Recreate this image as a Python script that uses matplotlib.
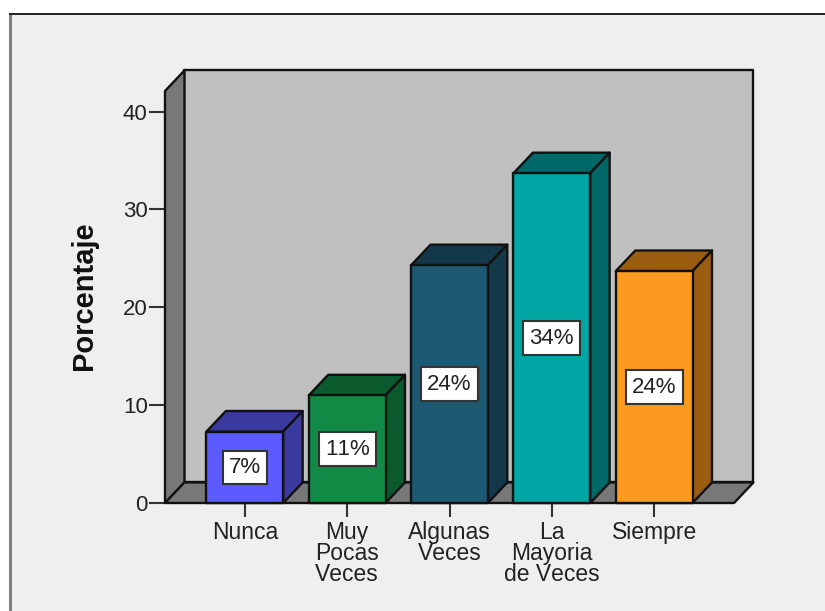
import matplotlib
matplotlib.use('Agg')
import matplotlib.pyplot as plt
from matplotlib.patches import Rectangle

categories = ['Nunca', 'Muy\nPocas\nVeces', 'Algunas\nVeces', 'La\nMayoria\nde Veces', 'Siempre']
values = [7.3, 11.0, 24.3, 33.7, 23.7]
y_ticks = [0, 10, 20, 30, 40]
front_colors = ['#5b5bff', '#108a45', '#1c5a74', '#00a6a4', '#fb9a1e']
dark_colors = ['#3a3a9e', '#0b5a2d', '#12384a', '#006866', '#9b5e10']

plt.rcParams['font.family'] = ['Liberation Sans', 'DejaVu Sans']
plt.rcParams['text.kerning_factor'] = 6

W, H = 825, 611
fig = plt.figure(figsize=(W / 100, H / 100), dpi=100, facecolor='white')

# fondo del panel con su marco
fig.add_artist(Rectangle((10 / W, 0), 1, 1 - 14 / H, transform=fig.transFigure,
                         facecolor='#efefef', edgecolor='none', zorder=-3))
fig.add_artist(plt.Line2D([10 / W, 10 / W], [0, 1 - 14 / H], color='#808080', lw=2.2, zorder=-2))
fig.add_artist(plt.Line2D([10 / W, 1], [1 - 14 / H, 1 - 14 / H], color='#222222', lw=1.4, zorder=-2))

ax = fig.add_axes([165 / W, (H - 503) / H, 569 / W, 412 / H])
ax.patch.set_visible(False)
for s in ax.spines.values():
    s.set_visible(False)

x0, x1 = -0.78, 4.78
ymax = 42.1
dx, dy = 0.19, 2.1
bar_w = 0.75
edge = dict(edgecolor='#111111', linewidth=1.7, joinstyle='round', clip_on=False)


def poly(points, color, z):
    ax.fill(*zip(*points), facecolor=color, zorder=z, **edge)


# paredes y suelo del grafico 3D
poly([(x0 + dx, dy), (x1 + dx, dy), (x1 + dx, ymax + dy), (x0 + dx, ymax + dy)], '#c0c0c0', 1)
poly([(x0, 0), (x0 + dx, dy), (x0 + dx, ymax + dy), (x0, ymax)], '#787878', 2)
poly([(x0, 0), (x1, 0), (x1 + dx, dy), (x0 + dx, dy)], '#787878', 2)

# barras con cara superior, lateral y frontal
for i, v in enumerate(values):
    l, r = i - bar_w / 2, i + bar_w / 2
    z = 3 + i
    poly([(l, v), (r, v), (r + dx, v + dy), (l + dx, v + dy)], dark_colors[i], z)
    poly([(r, 0), (r + dx, dy), (r + dx, v + dy), (r, v)], dark_colors[i], z)
    poly([(l, 0), (r, 0), (r, v), (l, v)], front_colors[i], z)
    ax.text(i, v / 2, f'{v:.0f}%', ha='center', va='center', fontsize=16, color='#222222',
            zorder=20, bbox=dict(boxstyle='square,pad=0.28', facecolor='white',
                                 edgecolor='#333333', linewidth=1.5))

ax.set_xlim(x0, x1)
ax.set_ylim(0, ymax)
ax.set_xticks(range(len(categories)))
ax.set_xticklabels(categories, linespacing=0.88)
ax.set_yticks(y_ticks)
ax.tick_params(axis='x', length=10, width=1.5, color='#333333', labelsize=16.5,
               labelcolor='#222222', pad=3)
ax.tick_params(axis='y', length=11.5, width=1.5, color='#333333', labelsize=16,
               labelcolor='#222222', pad=1)
ax.set_ylabel('Porcentaje', fontsize=21, fontweight='bold', color='#111111',
              y=(503 - 296) / 412, labelpad=18)

fig.savefig('out.png', dpi=100)
